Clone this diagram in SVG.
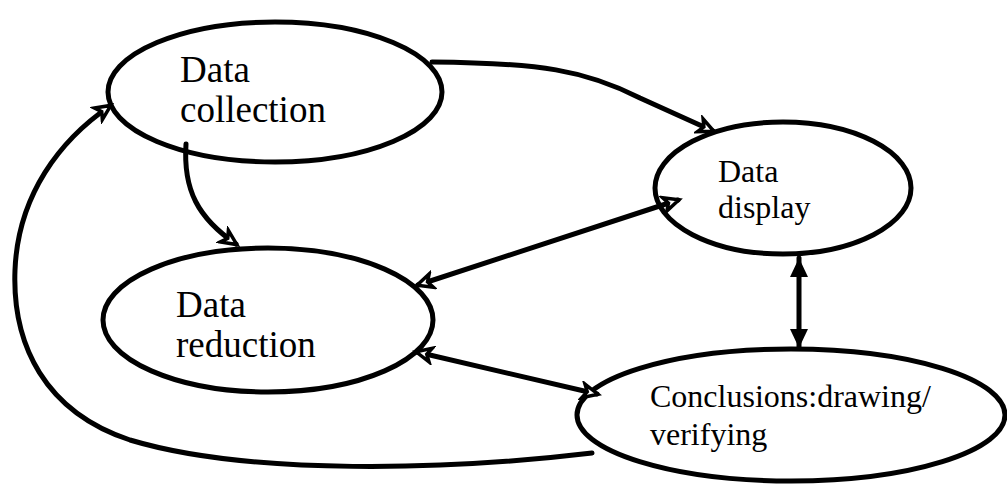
<svg xmlns="http://www.w3.org/2000/svg" width="1007" height="484" viewBox="0 0 1007 484">
<style>
.node ellipse{fill:#fff;stroke:#000;stroke-width:5}
.node text{font-family:"Liberation Serif","Times New Roman",serif;fill:#000}
.conn path{fill:none;stroke:#000;stroke-width:5;stroke-linecap:round}
</style>
<defs>
<marker id="open" viewBox="-3 -3 22 20" refX="14" refY="7" markerWidth="22" markerHeight="20" markerUnits="userSpaceOnUse" orient="auto-start-reverse">
<path d="M0,0 L15,7 L0,14 L4,7 z" fill="#fff" stroke="#000" stroke-width="3.5" stroke-linejoin="miter"/>
</marker>
<marker id="solid" viewBox="0 0 20 18" refX="19" refY="9" markerWidth="20" markerHeight="18" markerUnits="userSpaceOnUse" orient="auto-start-reverse">
<path d="M0,0 L19,9 L0,18 z" fill="#000"/>
</marker>
</defs>
<rect width="1007" height="484" fill="#fff"/>
<g id="node-collection" class="node">
<ellipse cx="275" cy="92" rx="167" ry="70"/>
<text x="180" y="82" font-size="37">Data</text>
<text x="180" y="122" font-size="37">collection</text>
</g>
<g id="node-display" class="node">
<ellipse cx="783" cy="188" rx="128" ry="66"/>
<text x="718" y="182" font-size="32">Data</text>
<text x="718" y="218" font-size="32">display</text>
</g>
<g id="node-reduction" class="node">
<ellipse cx="268" cy="320" rx="165" ry="72"/>
<text x="176" y="317" font-size="37">Data</text>
<text x="176" y="357" font-size="37">reduction</text>
</g>
<g id="node-conclusions" class="node">
<ellipse cx="791" cy="415" rx="214" ry="66"/>
<text x="650" y="407" font-size="32">Conclusions:drawing/</text>
<text x="650" y="445" font-size="32">verifying</text>
</g>
<g id="connectors" class="conn">
<path d="M432,62 C540,63 585,70 640,98 L713,131" marker-end="url(#open)"/>
<path d="M186,144 C183,190 198,218 236,244" marker-end="url(#open)"/>
<path d="M418,285 L678,200" marker-start="url(#open)" marker-end="url(#open)"/>
<path d="M417,352 L597,394" marker-start="url(#open)" marker-end="url(#open)"/>
<path d="M799,258 L799,348" marker-start="url(#solid)" marker-end="url(#solid)"/>
<path d="M592,453 C450,470 250,476 130,440 C45,412 12,345 15,270 C18,195 60,140 110,106" marker-end="url(#open)"/>
</g>
</svg>
